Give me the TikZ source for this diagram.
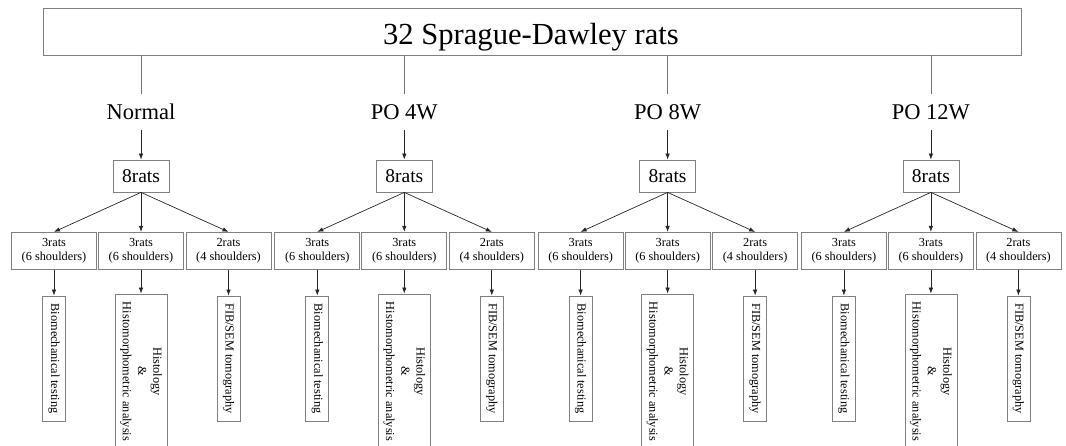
\documentclass[tikz,border=0pt]{standalone}
\usepackage{fontspec}
\setmainfont{Liberation Serif}
\usetikzlibrary{arrows.meta}
\begin{document}
\begin{tikzpicture}[x=1pt,y=-1pt,
  box/.style={draw=black!50, line width=0.8pt, inner sep=0pt},
  conn/.style={draw=black!55, line width=0.8pt},
  arr/.style={draw=black!85, line width=0.7pt, -{Latex[length=6pt,width=4.5pt]}},
  grp/.style={inner sep=10pt, font=\fontsize{22.5}{27}\selectfont},
  ratbox/.style={box, minimum width=56pt, minimum height=32pt, font=\fontsize{19.5}{23}\selectfont},
  subbox/.style={box, minimum width=85pt, minimum height=37pt, align=center, font=\fontsize{12.3}{14}\selectfont},
  vbox/.style={box, rotate=-90, minimum width=125pt, minimum height=23pt, font=\fontsize{12.3}{14}\selectfont},
  tallbox/.style={box, rotate=-90, minimum width=155pt, minimum height=52pt, align=center, font=\fontsize{12.3}{15.3}\selectfont}]
\useasboundingbox (0,0) rectangle (1066,446);
\node[box, minimum width=978pt, minimum height=46.4pt] (top) at (532,31.8) {};
\node[anchor=base, inner sep=0pt, font=\fontsize{30.6}{36}\selectfont] (title) at (531,44.8) {32 Sprague-Dawley rats};
\foreach \i/\cx/\lab in {1/141/Normal, 2/404.3/PO 4W, 3/667.6/PO 8W, 4/930.9/PO 12W} {
  \node[grp, anchor=base] (g\i) at (\cx,119.5) {\lab};
  \draw[conn] (top.south -| g\i.north) -- (g\i.north);
  \node[ratbox] (r\i) at (\cx,176) {8rats};
  \draw[arr] (g\i.south) -- (r\i.north);
  \node[subbox] (a\i) at (\cx-87,250.8) {3rats\\(6 shoulders)};
  \node[subbox] (b\i) at (\cx,250.8) {3rats\\(6 shoulders)};
  \node[subbox] (c\i) at (\cx+87.5,250.8) {2rats\\(4 shoulders)};
  \draw[arr] (r\i.south) -- (a\i.north);
  \draw[arr] (r\i.south) -- (b\i.north);
  \draw[arr] (r\i.south) -- (c\i.north);
  \node[vbox] (pa\i) at (\cx-87,358.5) {Biomechanical testing};
  \node[tallbox] (pb\i) at (\cx,371.5) {Histology\\\&\\Histomorphometric analysis};
  \node[vbox] (pc\i) at (\cx+87.5,358.5) {FIB/SEM tomography};
  \draw[arr] (a\i.south) -- (pa\i.west);
  \draw[arr] (b\i.south) -- (pb\i.west);
  \draw[arr] (c\i.south) -- (pc\i.west);
}
\end{tikzpicture}
\end{document}
